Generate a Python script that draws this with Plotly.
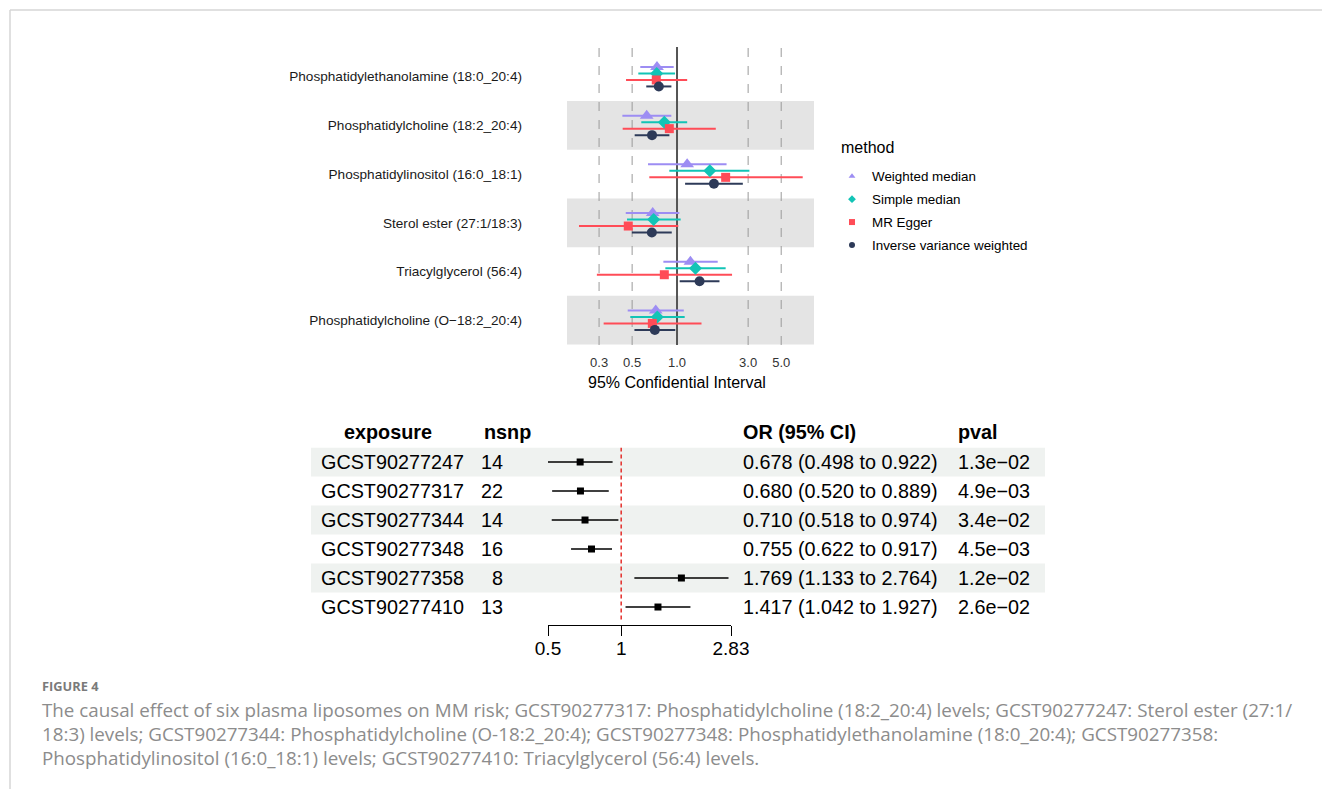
import math
import plotly.graph_objects as go

W, H = 1322, 789

# ---------------- data: top panel ----------------
traits = [
    "Phosphatidylethanolamine (18:0_20:4)",
    "Phosphatidylcholine (18:2_20:4)",
    "Phosphatidylinositol (16:0_18:1)",
    "Sterol ester (27:1/18:3)",
    "Triacylglycerol (56:4)",
    "Phosphatidylcholine (O\u221218:2_20:4)",
]
methods = ["Weighted median", "Simple median", "MR Egger", "Inverse variance weighted"]

wm_or = [0.734, 0.626, 1.17, 0.687, 1.23, 0.72]
wm_lo = [0.567, 0.43, 0.639, 0.453, 0.81, 0.467]
wm_hi = [0.95, 0.916, 2.15, 1.037, 1.875, 1.11]

sm_or = [0.731, 0.822, 1.66, 0.697, 1.33, 0.738]
sm_lo = [0.55, 0.576, 0.888, 0.462, 0.835, 0.486]
sm_hi = [0.97, 1.17, 3.06, 1.058, 2.12, 1.126]

eg_or = [0.726, 0.888, 2.12, 0.471, 0.822, 0.683]
eg_lo = [0.455, 0.432, 0.652, 0.22, 0.29, 0.322]
eg_hi = [1.17, 1.82, 6.97, 1.02, 2.34, 1.46]

ivw_or = [0.755, 0.680, 1.769, 0.678, 1.417, 0.710]
ivw_lo = [0.622, 0.520, 1.133, 0.498, 1.042, 0.518]
ivw_hi = [0.917, 0.889, 2.764, 0.922, 1.927, 0.974]

top_ticks = [0.3, 0.5, 1.0, 3.0, 5.0]
top_ticktext = ["0.3", "0.5", "1.0", "3.0", "5.0"]
dashed_refs = [0.3, 0.5, 3.0, 5.0]

# ---------------- data: bottom table ----------------
exposure = ["GCST90277247", "GCST90277317", "GCST90277344", "GCST90277348", "GCST90277358", "GCST90277410"]
nsnp = [14, 22, 14, 16, 8, 13]
t_or = [0.678, 0.680, 0.710, 0.755, 1.769, 1.417]
t_lo = [0.498, 0.520, 0.518, 0.622, 1.133, 1.042]
t_hi = [0.922, 0.889, 0.974, 0.917, 2.764, 1.927]
pval = ["1.3e\u221202", "4.9e\u221203", "3.4e\u221202", "4.5e\u221203", "1.2e\u221202", "2.6e\u221202"]
bottom_ticks = [0.5, 1, 2.83]
bottom_ticktext = ["0.5", "1", "2.83"]

caption_lines = [
    "The causal effect of six plasma liposomes on MM risk; GCST90277317: Phosphatidylcholine (18:2_20:4) levels; GCST90277247: Sterol ester (27:1/",
    "18:3) levels; GCST90277344: Phosphatidylcholine (O-18:2_20:4); GCST90277348: Phosphatidylethanolamine (18:0_20:4); GCST90277358:",
    "Phosphatidylinositol (16:0_18:1) levels; GCST90277410: Triacylglycerol (56:4) levels.",
]

# ---------------- styles ----------------
colors = ["#9D8DF3", "#12C4B6", "#FF4C57", "#2D3A58"]
symbols = ["triangle-up", "diamond", "square", "circle"]
sizes = [12, 10, 9, 10]
offsets = [-0.2, -0.0667, 0.0667, 0.2]
FONT = "Liberation Sans, Arial, sans-serif"
CAPFONT = "Open Sans, sans-serif"


def px_x(p):
    return p / W


def px_y(p):
    return 1 - p / H


fig = go.Figure()

rows = list(range(1, len(traits) + 1))
series = [(wm_or, wm_lo, wm_hi), (sm_or, sm_lo, sm_hi), (eg_or, eg_lo, eg_hi), (ivw_or, ivw_lo, ivw_hi)]

for k, (orv, lo, hi) in enumerate(series):
    xs, ys = [], []
    for i, r in enumerate(rows):
        yy = r + offsets[k]
        xs += [lo[i], hi[i], None]
        ys += [yy, yy, None]
    fig.add_trace(go.Scatter(x=xs, y=ys, mode="lines", line=dict(color=colors[k], width=2),
                             showlegend=False, hoverinfo="skip", xaxis="x", yaxis="y"))
for k, (orv, lo, hi) in enumerate(series):
    fig.add_trace(go.Scatter(x=orv, y=[r + offsets[k] for r in rows], mode="markers",
                             marker=dict(symbol=symbols[k], color=colors[k], size=sizes[k]),
                             showlegend=False, xaxis="x", yaxis="y", name=methods[k]))
# legend entries
for k in range(4):
    fig.add_trace(go.Scatter(x=[None], y=[None], mode="markers", name=methods[k],
                             marker=dict(symbol=symbols[k], color=colors[k], size=6),
                             legendgroup=methods[k], showlegend=True, xaxis="x", yaxis="y"))

shapes = []
# gray bands top
for r in rows:
    if r % 2 == 0:
        shapes.append(dict(type="rect", xref="x domain", yref="y", x0=0, x1=1, y0=r - 0.5, y1=r + 0.5,
                           fillcolor="#E4E4E4", line=dict(width=0), layer="below"))
for v in dashed_refs:
    shapes.append(dict(type="line", xref="x", yref="y domain", x0=v, x1=v, y0=0, y1=1,
                       line=dict(color="#9A9A9A", width=1, dash="dash"), layer="below"))
shapes.append(dict(type="line", xref="x", yref="y domain", x0=1, x1=1, y0=0, y1=1,
                   line=dict(color="#555555", width=2), layer="below"))

# table bands
for r in rows:
    if r % 2 == 1:
        shapes.append(dict(type="rect", xref="paper", yref="y2", x0=px_x(311), x1=px_x(1045),
                           y0=r - 0.5, y1=r + 0.5, fillcolor="#EFF2F0", line=dict(width=0), layer="below"))
shapes.append(dict(type="line", xref="x2", yref="y2", x0=1, x1=1, y0=0.5, y1=6.5,
                   line=dict(color="#E3201C", width=1.4, dash="4px,3px")))

# frame
shapes.append(dict(type="line", xref="paper", yref="paper", x0=px_x(10), x1=1, y0=px_y(10), y1=px_y(10),
                   line=dict(color="#D6D6D6", width=1.5)))
shapes.append(dict(type="line", xref="paper", yref="paper", x0=px_x(10), x1=px_x(10), y0=0, y1=px_y(10),
                   line=dict(color="#D6D6D6", width=1.5)))

# forest table points
xs, ys = [], []
for i, r in enumerate(rows):
    xs += [t_lo[i], t_hi[i], None]
    ys += [r, r, None]
fig.add_trace(go.Scatter(x=xs, y=ys, mode="lines", line=dict(color="black", width=1.3),
                         showlegend=False, hoverinfo="skip", xaxis="x2", yaxis="y2"))
fig.add_trace(go.Scatter(x=t_or, y=rows, mode="markers", marker=dict(symbol="square", color="black", size=7),
                         showlegend=False, xaxis="x2", yaxis="y2"))

TSIZE = 19.8
ann = []
hdr_y = px_y(432)
ann.append(dict(text="<b>exposure</b>", x=px_x(388), y=hdr_y, xanchor="center"))
ann.append(dict(text="<b>nsnp</b>", x=px_x(482), y=hdr_y, xanchor="left"))
ann.append(dict(text="<b>OR (95% CI)</b>", x=px_x(741), y=hdr_y, xanchor="left"))
ann.append(dict(text="<b>pval</b>", x=px_x(956), y=hdr_y, xanchor="left"))
for a in ann:
    a.update(xref="paper", yref="paper", yanchor="middle", showarrow=False,
             font=dict(family=FONT, size=TSIZE, color="black"))
for i, r in enumerate(rows):
    common = dict(xref="paper", yref="y2", y=r, yanchor="middle", showarrow=False,
                  font=dict(family=FONT, size=TSIZE, color="black"))
    ann.append(dict(text=exposure[i], x=px_x(319), xanchor="left", **common))
    ann.append(dict(text=str(nsnp[i]), x=px_x(505), xanchor="right", **common))
    ann.append(dict(text=f"{t_or[i]:.3f} ({t_lo[i]:.3f} to {t_hi[i]:.3f})", x=px_x(741), xanchor="left", **common))
    ann.append(dict(text=pval[i], x=px_x(956), xanchor="left", **common))

# legend title
ann.append(dict(text="method", x=px_x(839), y=px_y(148), xref="paper", yref="paper", xanchor="left",
                yanchor="middle", showarrow=False, font=dict(family=FONT, size=16, color="black")))
# x axis title top
ann.append(dict(text="95% Confidential Interval", x=px_x(677), y=px_y(382), xref="paper", yref="paper",
                xanchor="center", yanchor="middle", showarrow=False, font=dict(family=FONT, size=16, color="black")))

# caption
ann.append(dict(text="<b>FIGURE 4</b>", x=px_x(40), y=px_y(686), xref="paper", yref="paper", xanchor="left",
                yanchor="middle", showarrow=False, font=dict(family=CAPFONT, size=12.8, color="#7A7A7A")))
for j, line in enumerate(caption_lines):
    ann.append(dict(text=line, x=px_x(40), y=px_y(710 + 24 * j), xref="paper", yref="paper", xanchor="left",
                    yanchor="middle", showarrow=False,
                    font=dict(family=CAPFONT, size=18.8, color="#8C8C8C")))

fig.update_layout(
    width=W, height=H, margin=dict(l=0, r=0, t=0, b=0, pad=0, autoexpand=False),
    paper_bgcolor="white", plot_bgcolor="rgba(0,0,0,0)",
    shapes=shapes, annotations=ann,
    font=dict(family=FONT),
    xaxis=dict(type="log", domain=[px_x(567), px_x(814)], range=[-0.738, 0.919],
               tickvals=top_ticks, ticktext=top_ticktext, showgrid=False, zeroline=False,
               showline=False, ticks="", ticklabelstandoff=8, automargin=False,
               tickfont=dict(size=13, color="#333333"), anchor="y"),
    yaxis=dict(domain=[px_y(345), px_y(47)], range=[6.51, 0.39], tickvals=rows, ticktext=traits,
               showgrid=False, zeroline=False, showline=False, ticks="", ticklabelstandoff=44,
               automargin=False, tickfont=dict(size=13.6, color="#1A1A1A"), anchor="x"),
    xaxis2=dict(type="log", domain=[px_x(548), px_x(731)], range=[math.log10(0.5), math.log10(2.83)],
                tickvals=bottom_ticks, ticktext=bottom_ticktext, showgrid=False, zeroline=False,
                showline=True, linecolor="black", linewidth=1, ticks="outside", ticklen=10,
                tickcolor="black", ticklabelstandoff=-4, automargin=False,
                tickfont=dict(size=19, color="black"), anchor="y2"),
    yaxis2=dict(domain=[px_y(625), px_y(447.5)], range=[6.62, 0.5], showgrid=False, zeroline=False,
                showline=False, showticklabels=False, ticks="", automargin=False, anchor="x2"),
    legend=dict(x=px_x(832), y=px_y(161), xanchor="left", yanchor="top",
                font=dict(family=FONT, size=13.4, color="black"), tracegroupgap=2.5,
                bgcolor="rgba(0,0,0,0)", itemwidth=30),
    showlegend=True,
)

fig.write_html(
    "out.html",
    include_plotlyjs=True,
    config={"displayModeBar": False},
    post_script="document.body.style.margin='0';document.body.style.overflow='hidden';",
)
